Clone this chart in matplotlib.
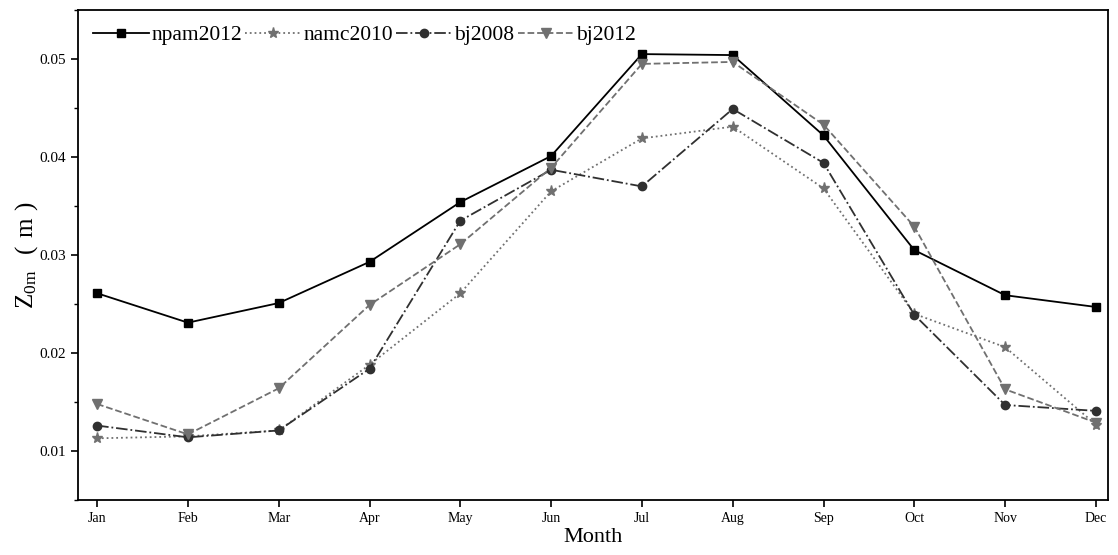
import numpy as np
import matplotlib.pyplot as plt
from matplotlib.ticker import MultipleLocator

# ------------------------------
# Daten
# ------------------------------
months = ['Jan', 'Feb', 'Mar', 'Apr', 'May', 'Jun',
          'Jul', 'Aug', 'Sep', 'Oct', 'Nov', 'Dec']
npam2012 = [0.0261, 0.0231, 0.0251, 0.0293, 0.0354, 0.0401,
            0.0505, 0.0504, 0.0422, 0.0305, 0.0259, 0.0247]
namc2010 = [0.0113, 0.0115, 0.0121, 0.0188, 0.0261, 0.0365,
            0.0419, 0.0431, 0.0368, 0.0240, 0.0206, 0.0127]
bj2008 = [0.0126, 0.0114, 0.0121, 0.0184, 0.0335, 0.0387,
          0.0370, 0.0449, 0.0394, 0.0239, 0.0147, 0.0141]
bj2012 = [0.0148, 0.0117, 0.0164, 0.0249, 0.0311, 0.0389,
          0.0495, 0.0497, 0.0433, 0.0329, 0.0163, 0.0129]

plt.rcParams['font.family'] = ['Liberation Serif', 'Noto Sans CJK SC']
plt.rcParams['mathtext.fontset'] = 'custom'
plt.rcParams['mathtext.rm'] = 'Liberation Serif'

x = np.arange(1, len(months) + 1)

# ------------------------------
# Plot
# ------------------------------
fig = plt.figure(figsize=(11.18, 5.55), dpi=100)
ax = fig.add_axes([0.0698, 0.099, 0.921, 0.883])

ax.plot(x, npam2012, color='black', linestyle='-', linewidth=1.3,
        marker='s', markersize=6, label='npam2012')
ax.plot(x, namc2010, color='#707070', linestyle=':', linewidth=1.3,
        marker='*', markersize=8, label='namc2010')
ax.plot(x, bj2008, color='#303030', linestyle='-.', linewidth=1.3,
        marker='o', markersize=6, label='bj2008')
ax.plot(x, bj2012, color='#707070', linestyle='--', linewidth=1.3,
        marker='v', markersize=7, label='bj2012')

# Achsen
ax.set_xlim(0.79, 12.13)
ax.set_ylim(0.005, 0.055)
ax.set_xticks(x)
ax.set_xticklabels(months, fontsize=10)
ax.yaxis.set_minor_locator(MultipleLocator(0.005))
ax.set_yticks([0.01, 0.02, 0.03, 0.04, 0.05])
ax.set_yticklabels(['0.01', '0.02', '0.03', '0.04', '0.05'], fontsize=11)
ax.tick_params(axis='both', direction='out', length=5, width=1.2)
ax.tick_params(axis='y', which='minor', direction='out', length=3, width=1)
for s in ax.spines.values():
    s.set_linewidth(1.3)

ax.set_xlabel('Month', fontsize=16, labelpad=2)
ax.set_ylabel(r'$\mathrm{Z_{0m}}\ \ (\ \mathrm{m}\ )$', fontsize=18, labelpad=0)

# Legende
ax.legend(loc='upper left', ncol=4, frameon=False, fontsize=15.5,
          handlelength=2.6, handletextpad=0.1, columnspacing=0.15,
          borderaxespad=0.3, bbox_to_anchor=(0.0, 1.0))

fig.savefig('out.png', dpi=100)
